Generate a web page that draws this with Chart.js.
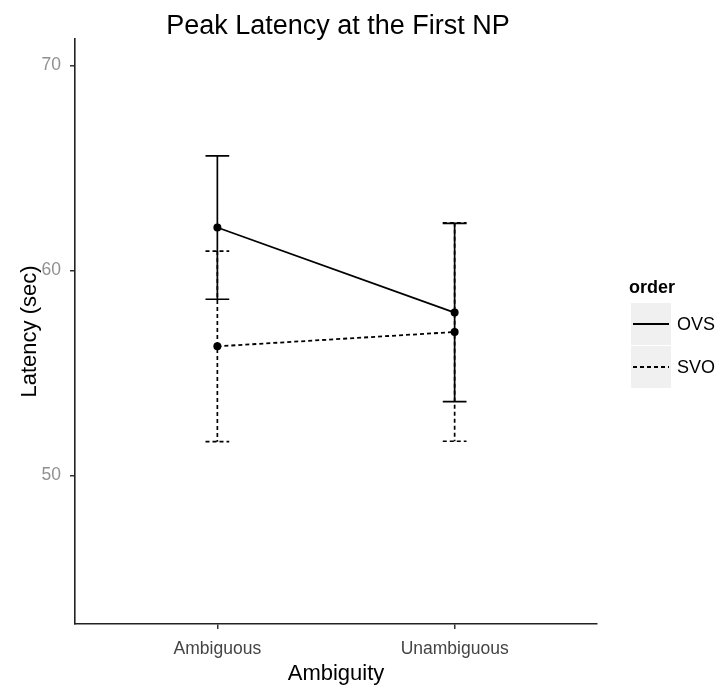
<!DOCTYPE html>
<html>
  <head>
    <title>Peak Latency at the First NP</title>
    <script src="https://cdn.jsdelivr.net/npm/chart.js"></script>
    <style>
      body {
        margin: 0;
        background: #fff;
      }
    </style>
  </head>
  <body>
    <canvas id="latencyChart" width="719" height="687"></canvas>

    <script>
      const categories = ['Ambiguous', 'Unambiguous'];
      const ovsMean = [62.1, 57.95];
      const ovsErr = [3.5, 4.35];
      const svoMean = [56.3, 57.0];
      const svoErr = [4.65, 5.33];
      const yTicks = [50, 60, 70];

      const FONT = '"Liberation Sans", Arial, sans-serif';

      const toPoints = (means) => means.map((v, i) => ({ x: i + 1, y: v }));

      // error bars, ggplot style, drawn under the lines
      const errorBars = {
        id: 'errorBars',
        beforeDatasetsDraw(chart) {
          const { ctx, scales } = chart;
          const x = scales.x;
          const y = scales.y;
          const half = (x.getPixelForValue(1.05) - x.getPixelForValue(0.95)) / 2;
          chart.data.datasets.forEach((ds) => {
            ctx.save();
            ctx.strokeStyle = '#000';
            ctx.lineWidth = 1.7;
            ctx.setLineDash(ds.borderDash || []);
            ds.data.forEach((p, i) => {
              const px = x.getPixelForValue(p.x);
              const top = y.getPixelForValue(p.y + ds.err[i]);
              const bot = y.getPixelForValue(p.y - ds.err[i]);
              ctx.beginPath();
              ctx.moveTo(px, top);
              ctx.lineTo(px, bot);
              ctx.moveTo(px - half, top);
              ctx.lineTo(px + half, top);
              ctx.moveTo(px - half, bot);
              ctx.lineTo(px + half, bot);
              ctx.stroke();
            });
            ctx.restore();
          });
        },
      };

      // title, axis titles and the grey-key legend
      const decorations = {
        id: 'decorations',
        afterDraw(chart) {
          const { ctx, chartArea } = chart;
          ctx.save();
          ctx.fillStyle = '#000';
          ctx.textAlign = 'center';
          ctx.textBaseline = 'alphabetic';
          ctx.font = '27px ' + FONT;
          ctx.fillText('Peak Latency at the First NP', 338, 34);

          ctx.font = '22px ' + FONT;
          ctx.fillText('Ambiguity', (chartArea.left + chartArea.right) / 2, 680);

          ctx.save();
          ctx.translate(36, (chartArea.top + chartArea.bottom) / 2);
          ctx.rotate(-Math.PI / 2);
          ctx.fillText('Latency (sec)', 0, 0);
          ctx.restore();

          // legend
          ctx.textAlign = 'left';
          ctx.font = 'bold 18px ' + FONT;
          ctx.fillText('order', 629, 293);
          ctx.font = '18px ' + FONT;
          chart.data.datasets.forEach((ds, i) => {
            const top = 303 + i * 43;
            ctx.fillStyle = '#f0f0f0';
            ctx.fillRect(631, top, 40, 42);
            ctx.strokeStyle = '#000';
            ctx.lineWidth = 2.2;
            ctx.setLineDash(ds.borderDash || []);
            ctx.beginPath();
            ctx.moveTo(633, top + 21);
            ctx.lineTo(669, top + 21);
            ctx.stroke();
            ctx.setLineDash([]);
            ctx.fillStyle = '#000';
            ctx.fillText(ds.label, 677, top + 27);
          });
          ctx.restore();
        },
      };

      const ctx = document.getElementById('latencyChart').getContext('2d');
      new Chart(ctx, {
        type: 'line',
        data: {
          datasets: [
            {
              label: 'OVS',
              data: toPoints(ovsMean),
              err: ovsErr,
              borderColor: '#000',
              borderWidth: 1.8,
              pointRadius: 4,
              pointBackgroundColor: '#000',
              pointBorderWidth: 0,
              fill: false,
            },
            {
              label: 'SVO',
              data: toPoints(svoMean),
              err: svoErr,
              borderColor: '#000',
              borderWidth: 1.8,
              borderDash: [4, 3],
              pointRadius: 4,
              pointBackgroundColor: '#000',
              pointBorderWidth: 0,
              fill: false,
            },
          ],
        },
        options: {
          responsive: false,
          animation: false,
          layout: {
            padding: { top: 39, right: 122, left: 0, bottom: 0 },
          },
          plugins: {
            legend: { display: false },
            tooltip: { enabled: false },
          },
          scales: {
            x: {
              type: 'linear',
              min: 0.4,
              max: 2.6,
              afterBuildTicks: (scale) => {
                scale.ticks = categories.map((c, i) => ({ value: i + 1 }));
              },
              afterFit: (scale) => {
                scale.height = 63;
              },
              ticks: {
                callback: (v) => categories[v - 1],
                color: '#444',
                padding: 10,
                maxRotation: 0,
                font: { family: FONT, size: 17.5 },
              },
              grid: {
                drawOnChartArea: false,
                tickLength: 5,
                lineWidth: 1.5,
                color: '#333',
              },
              border: { display: true, color: '#222', width: 1.6 },
            },
            y: {
              min: 42.75,
              max: 71.3,
              afterBuildTicks: (scale) => {
                scale.ticks = yTicks.map((v) => ({ value: v }));
              },
              afterFit: (scale) => {
                scale.width = 75;
              },
              ticks: {
                color: '#909090',
                padding: 9,
                font: { family: FONT, size: 17.5 },
              },
              grid: {
                drawOnChartArea: false,
                tickLength: 5,
                lineWidth: 1.5,
                color: '#333',
              },
              border: { display: true, color: '#222', width: 1.6 },
            },
          },
        },
        plugins: [errorBars, decorations],
      });
    </script>
  </body>
</html>
